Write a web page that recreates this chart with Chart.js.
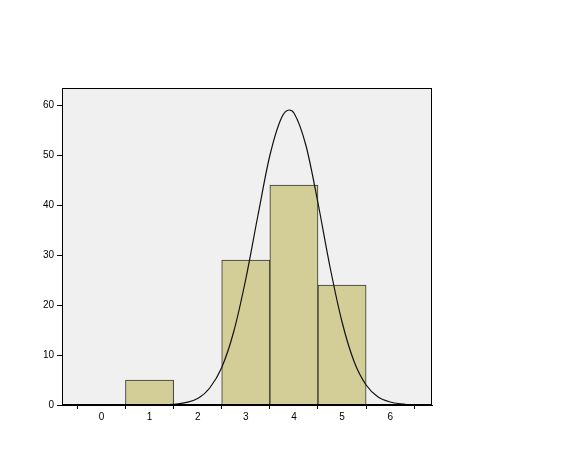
<!DOCTYPE html>
<html><head><meta charset="utf-8">
<script src="https://cdn.jsdelivr.net/npm/chart.js@4/dist/chart.umd.min.js"></script>
<style>html,body{margin:0;padding:0;background:#fff}#w{width:580px;height:464px}</style>
</head><body><div id="w"><canvas id="c"></canvas></div>
<script>
const binCenters = [1, 3, 4, 5];
const binCounts = [5, 29, 44, 24];
const curveX = [-0.27, 1, 1.5, 2, 2.25, 2.5, 2.75, 3, 3.25, 3.5, 3.75, 3.9, 4, 4.25, 4.5, 4.75, 5, 5.25, 5.5, 5.75, 6, 6.32];
const curveY = [0, 0, 0.14, 1.3, 3.4, 7.5, 14.7, 25.2, 37.8, 49.9, 57.6, 59, 58.4, 51.9, 40.4, 27.6, 16.6, 8.7, 4.0, 1.6, 0.6, 0.12];
const xTicks = [0, 1, 2, 3, 4, 5, 6];
const yTicks = [0, 10, 20, 30, 40, 50, 60];

const bg = {id:'bg', beforeDraw(ch){const a=ch.chartArea,c=ch.ctx;c.save();c.fillStyle='#f0f0f0';c.fillRect(a.left,a.top,a.right-a.left,a.bottom-a.top);c.restore();}};
const font = {family:'Arial, "Liberation Sans"', size:10};
new Chart(document.getElementById('c'), {
  data: {datasets: [
    {type:'bar', data: binCenters.map((x,i)=>({x, y: binCounts[i]})), backgroundColor:'#d3ce97', borderColor:'#333', borderWidth:1, barPercentage:1, categoryPercentage:1, order:2},
    {type:'line', data: curveX.map((x,i)=>({x, y: curveY[i]})), borderColor:'#111', borderWidth:1.2, pointRadius:0, tension:0.4, cubicInterpolationMode:'monotone', fill:false, order:1}
  ]},
  options: {
    responsive:true, maintainAspectRatio:false, animation:false,
    layout:{padding:{top:88, right:148, left:0, bottom:0}},
    plugins:{legend:{display:false}, tooltip:{enabled:false}},
    scales:{
      x:{type:'linear', min:-0.27, max:6.32, afterFit(s){s.height=59;},
        afterBuildTicks(s){s.ticks = xTicks.map(v=>({value:v}));},
        ticks:{color:'#000', font, padding:2, maxRotation:0},
        grid:{drawOnChartArea:false, drawTicks:true, tickLength:4, color:'#000'},
        border:{color:'#000'}},
      y:{type:'linear', min:0, max:63.4, afterFit(s){s.width=62;},
        afterBuildTicks(s){s.ticks = yTicks.map(v=>({value:v}));},
        ticks:{color:'#000', font, padding:3},
        grid:{drawOnChartArea:false, drawTicks:true, tickLength:5, color:'#000'},
        border:{color:'#000'}}
    }
  },
  plugins:[bg, {id:'frame', afterDraw(ch){const a=ch.chartArea,c=ch.ctx;c.save();c.strokeStyle='#000';c.lineWidth=1;c.strokeRect(a.left+0.5,a.top+0.5,a.right-a.left-1,a.bottom-a.top-1);c.restore();}}]
});
</script></body></html>
